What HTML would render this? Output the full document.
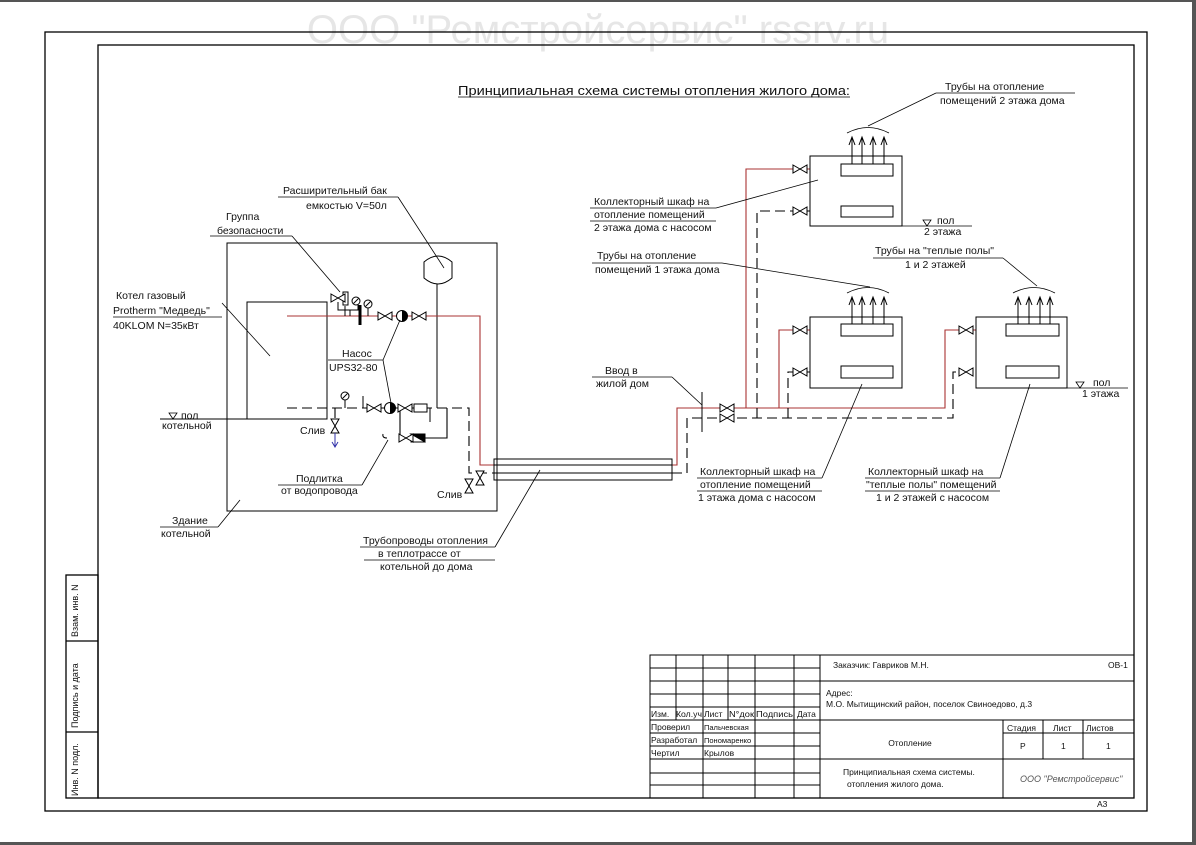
<!DOCTYPE html>
<html><head><meta charset="utf-8"><style>
html,body{margin:0;padding:0;background:#fff}
svg{display:block}
text{font-family:"Liberation Sans",sans-serif;font-size:10.5px;fill:#111}
.t{font-size:10px}
</style></head><body>
<svg width="1196" height="845" viewBox="0 0 1196 845" xmlns="http://www.w3.org/2000/svg">
<defs>
<g id="v"><path d="M-7,-4 L7,4 L7,-4 L-7,4Z" fill="#fff" stroke="#000" stroke-width="1"/></g>
<g id="vv"><path d="M-4,-7 L4,7 L-4,7 L4,-7Z" fill="#fff" stroke="#000" stroke-width="1"/></g>
<g id="p"><circle r="5.5" fill="#fff" stroke="#000"/><path d="M0,-5.5 A5.5,5.5 0 0 1 0,5.5Z" fill="#000"/></g>
<g id="g"><circle r="4" fill="#fff" stroke="#000"/><line x1="-2.5" y1="2.5" x2="2.5" y2="-2.5" stroke="#000"/></g>
<g id="ar"><line x1="0" y1="0" x2="0" y2="-26" stroke="#000"/><path d="M-3,-19 L0,-27 L3,-19" fill="none" stroke="#000"/></g>
</defs>
<rect x="0" y="0" width="1196" height="2" fill="#555"/>
<rect x="0" y="842" width="1196" height="3" fill="#555"/>
<rect x="1192" y="0" width="4" height="845" fill="#555"/>
<text x="598" y="43" text-anchor="middle" style="font-size:40px;fill:#e6e6e6">ООО "Ремстройсервис" rssrv.ru</text>
<g fill="none" stroke="#000" stroke-width="1.3">
<rect x="45" y="32" width="1102" height="779"/>
<rect x="98" y="45" width="1036" height="753"/>
<rect x="66" y="575" width="32" height="223"/>
<line x1="66" y1="641" x2="98" y2="641"/><line x1="66" y1="732" x2="98" y2="732"/>
</g>
<g class="t" style="font-size:9px">
<text transform="translate(78,637) rotate(-90)" style="font-size:9px">Взам. инв. N</text>
<text transform="translate(78,728) rotate(-90)" style="font-size:9px">Подпись и дата</text>
<text transform="translate(78,796) rotate(-90)" style="font-size:9px">Инв. N подл.</text>
</g>
<text x="458" y="95" textLength="392" lengthAdjust="spacingAndGlyphs" style="font-size:13px">Принципиальная схема системы отопления жилого дома:</text>
<line x1="458" y1="97" x2="850" y2="97" stroke="#000" stroke-width="0.8"/>

<!-- Title block -->
<g fill="none" stroke="#000" stroke-width="1">
<rect x="650" y="655" width="484" height="143"/>
<line x1="676" y1="655" x2="676" y2="720"/><line x1="703" y1="655" x2="703" y2="798"/>
<line x1="728" y1="655" x2="728" y2="720"/><line x1="755" y1="655" x2="755" y2="798"/>
<line x1="794" y1="655" x2="794" y2="798"/><line x1="820" y1="655" x2="820" y2="798"/>
<line x1="650" y1="668" x2="820" y2="668"/><line x1="650" y1="681" x2="820" y2="681"/>
<line x1="650" y1="694" x2="820" y2="694"/><line x1="650" y1="707" x2="820" y2="707"/>
<line x1="650" y1="720" x2="1134" y2="720"/><line x1="650" y1="733" x2="820" y2="733"/>
<line x1="650" y1="746" x2="820" y2="746"/><line x1="650" y1="759" x2="1134" y2="759"/>
<line x1="650" y1="773" x2="820" y2="773"/><line x1="650" y1="785" x2="820" y2="785"/>
<line x1="820" y1="681" x2="1134" y2="681"/>
<line x1="1003" y1="720" x2="1003" y2="798"/><line x1="1043" y1="720" x2="1043" y2="759"/><line x1="1083" y1="720" x2="1083" y2="759"/>
<line x1="1003" y1="733" x2="1134" y2="733"/>
</g>
<g style="font-size:8.5px">
<text x="651" y="717" style="font-size:8.5px">Изм.</text>
<text x="676" y="717" textLength="26" lengthAdjust="spacingAndGlyphs" style="font-size:8.5px">Кол.уч</text>
<text x="704" y="717" style="font-size:8.5px">Лист</text>
<text x="729" y="717" textLength="25" lengthAdjust="spacingAndGlyphs" style="font-size:8.5px">N°док</text>
<text x="756" y="717" textLength="37" lengthAdjust="spacingAndGlyphs" style="font-size:8.5px">Подпись</text>
<text x="797" y="717" style="font-size:8.5px">Дата</text>
<text x="651" y="730" style="font-size:8.5px">Проверил</text><text x="704" y="730" style="font-size:7.5px">Пальчевская</text>
<text x="651" y="743" style="font-size:8.5px">Разработал</text><text x="704" y="743" style="font-size:7.5px">Пономаренко</text>
<text x="651" y="756" style="font-size:8.5px">Чертил</text><text x="704" y="756" style="font-size:8.5px">Крылов</text>
<text x="833" y="668" style="font-size:8.5px">Заказчик: Гавриков М.Н.</text>
<text x="1108" y="668" style="font-size:8.5px">ОВ-1</text>
<text x="826" y="696" style="font-size:8.5px">Адрес:</text>
<text x="826" y="707" style="font-size:8.5px">М.О. Мытищинский район, поселок Свиноедово, д.3</text>
<text x="910" y="746" text-anchor="middle" style="font-size:8.5px">Отопление</text>
<text x="1007" y="731" style="font-size:8.5px">Стадия</text><text x="1053" y="731" style="font-size:8.5px">Лист</text><text x="1086" y="731" style="font-size:8.5px">Листов</text>
<text x="1020" y="749" style="font-size:8.5px">Р</text><text x="1061" y="749" style="font-size:8.5px">1</text><text x="1106" y="749" style="font-size:8.5px">1</text>
<text x="843" y="775" style="font-size:8.5px">Принципиальная схема системы.</text>
<text x="847" y="787" style="font-size:8.5px">отопления жилого дома.</text>
<text x="1020" y="782" style="font-size:9px;font-style:italic;fill:#555">ООО "Ремстройсервис"</text>
<text x="1097" y="807" style="font-size:8.5px">А3</text>
</g>

<!-- boiler room -->
<g fill="none" stroke="#000" stroke-width="1">
<rect x="227" y="243" width="270" height="268"/>
<rect x="247" y="302" width="80" height="117"/>
<path d="M424,262 Q438,250 452,262 L452,278 Q438,290 424,278Z" fill="#fff"/>
<line x1="437" y1="284" x2="437" y2="408"/>
<line x1="160" y1="419" x2="247" y2="419"/>
</g>
<g fill="none" stroke-width="1.1">
<path d="M287,316 L480,316 L480,465 L494,465" stroke="#a33"/>
<path d="M287,408 L469,408 L469,473 L494,473" stroke="#000" stroke-dasharray="10,5"/>
<path d="M335,408 L335,418 M400,408 L400,438 L447,438 L447,408" stroke="#000"/>
<path d="M672,465 L677,465 L677,408 L945,408 L945,330 L976,330" stroke="#a33"/>
<path d="M746,408 L746,169 L810,169 M779,408 L779,330 L810,330" stroke="#a33"/>
<path d="M810,169 L841,169 M810,330 L841,330 M976,330 L1006,330" stroke="#a33"/>
<path d="M672,473 L687,473 L687,418 L953,418 L953,372 L976,372 M757,418 L757,211 L841,211 M788,418 L788,372 L841,372 M976,372 L1006,372" stroke="#000" stroke-dasharray="10,5"/>
</g>
<!-- tube -->
<g fill="none" stroke="#000" stroke-width="1">
<rect x="494" y="459" width="178" height="21"/>
<line x1="494" y1="465" x2="672" y2="465"/><line x1="494" y1="473" x2="672" y2="473"/>
<line x1="702" y1="392" x2="702" y2="432"/>
<path d="M345,316 L345,306 M350,316 L350,310 L338,310 L338,302 M350,310 L358,310 L358,302 M368,316 L368,308"/>
<rect x="343" y="292" width="5" height="13" fill="#fff"/>
<line x1="360" y1="305" x2="360" y2="325" stroke-width="3"/>
<line x1="363" y1="408" x2="363" y2="396"/><line x1="345" y1="408" x2="345" y2="400"/>
<line x1="430" y1="408" x2="430" y2="422"/>
<path d="M387,438 Q382,438 383,434"/>
<rect x="411" y="434" width="14" height="8" fill="#fff"/><path d="M411,434 L425,442 L425,434Z" fill="#000"/>
<rect x="414" y="404" width="13" height="8" fill="#fff"/>
</g>
<use href="#v" x="338" y="298"/>
<use href="#g" x="356" y="301"/><use href="#g" x="368" y="304"/><use href="#g" x="345" y="396"/>
<use href="#v" x="385" y="316"/><use href="#p" x="402" y="316"/><use href="#v" x="419" y="316"/>
<use href="#v" x="374" y="408"/><use href="#p" x="390" y="408"/><use href="#v" x="405" y="408"/>
<use href="#v" x="406" y="438"/>
<use href="#vv" x="335" y="426"/>
<line x1="335" y1="433" x2="335" y2="446" stroke="#33a"/><path d="M332,442 L335,447 L338,442" fill="none" stroke="#33a"/>
<use href="#vv" x="469" y="486"/><use href="#vv" x="480" y="478"/>
<use href="#v" x="727" y="408"/><use href="#v" x="727" y="418"/>
<use href="#v" x="800" y="169"/><use href="#v" x="800" y="211"/>
<use href="#v" x="800" y="330"/><use href="#v" x="800" y="372"/>
<use href="#v" x="966" y="330"/><use href="#v" x="966" y="372"/>
<g fill="#fff" stroke="#000" stroke-width="1">
<rect x="810" y="156" width="92" height="70"/><rect x="841" y="164" width="52" height="12"/><rect x="841" y="206" width="52" height="11"/>
<rect x="810" y="317" width="92" height="71"/><rect x="841" y="324" width="52" height="12"/><rect x="841" y="366" width="52" height="12"/>
<rect x="976" y="317" width="91" height="71"/><rect x="1006" y="324" width="53" height="12"/><rect x="1006" y="366" width="53" height="12"/>
</g>
<use href="#ar" x="852" y="164"/><use href="#ar" x="862" y="164"/><use href="#ar" x="873" y="164"/><use href="#ar" x="884" y="164"/>
<use href="#ar" x="852" y="324"/><use href="#ar" x="862" y="324"/><use href="#ar" x="873" y="324"/><use href="#ar" x="884" y="324"/>
<use href="#ar" x="1018" y="324"/><use href="#ar" x="1029" y="324"/><use href="#ar" x="1040" y="324"/><use href="#ar" x="1050" y="324"/>
<g fill="none" stroke="#000" stroke-width="0.8">
<path d="M847,133 Q868,122 889,133 M847,293 Q868,282 889,293 M1013,293 Q1034,282 1055,293"/>
<line x1="902" y1="226" x2="972" y2="226"/><line x1="1067" y1="388" x2="1128" y2="388"/>
<path d="M923,220 L931,220 L927,226Z M1076,382 L1084,382 L1080,388Z M169,413 L177,413 L173,419Z"/>
<line x1="113" y1="317" x2="222" y2="317"/><line x1="222" y1="303" x2="270" y2="356"/>
<line x1="210" y1="236" x2="292" y2="236"/><line x1="292" y1="236" x2="340" y2="292"/>
<line x1="278" y1="197" x2="398" y2="197"/><line x1="398" y1="197" x2="444" y2="268"/>
<line x1="328" y1="360" x2="383" y2="360"/><line x1="383" y1="360" x2="400" y2="320"/><line x1="383" y1="360" x2="391" y2="403"/>
<line x1="278" y1="485" x2="362" y2="485"/><line x1="362" y1="485" x2="388" y2="440"/>
<line x1="160" y1="527" x2="218" y2="527"/><line x1="218" y1="527" x2="240" y2="500"/>
<line x1="360" y1="547" x2="495" y2="547"/><line x1="364" y1="560" x2="495" y2="560"/><line x1="495" y1="547" x2="540" y2="470"/>
<line x1="592" y1="377" x2="672" y2="377"/><line x1="672" y1="377" x2="702" y2="405"/>
<line x1="590" y1="208" x2="716" y2="208"/><line x1="590" y1="221" x2="716" y2="221"/><line x1="716" y1="208" x2="818" y2="180"/>
<line x1="592" y1="263" x2="722" y2="263"/><line x1="722" y1="263" x2="870" y2="287"/>
<line x1="936" y1="93" x2="1075" y2="93"/><line x1="936" y1="93" x2="868" y2="126"/>
<line x1="873" y1="258" x2="1003" y2="258"/><line x1="1003" y1="258" x2="1037" y2="286"/>
<line x1="697" y1="478" x2="822" y2="478"/><line x1="697" y1="491" x2="822" y2="491"/><line x1="822" y1="478" x2="862" y2="384"/>
<line x1="865" y1="478" x2="1000" y2="478"/><line x1="865" y1="491" x2="1000" y2="491"/><line x1="1000" y1="478" x2="1030" y2="384"/>
</g>
<text x="116" y="299">Котел газовый</text>
<text x="113" y="314">Protherm "Медведь"</text>
<text x="113" y="329">40KLOM N=35кВт</text>
<text x="181" y="419">пол</text><text x="162" y="429">котельной</text>
<text x="300" y="434">Слив</text><text x="437" y="498">Слив</text>
<text x="226" y="220">Группа</text><text x="217" y="234">безопасности</text>
<text x="283" y="194">Расширительный бак</text><text x="306" y="209">емкостью V=50л</text>
<text x="342" y="357">Насос</text><text x="329" y="371">UPS32-80</text>
<text x="296" y="482">Подлитка</text><text x="281" y="494">от водопровода</text>
<text x="172" y="524">Здание</text><text x="161" y="537">котельной</text>
<text x="363" y="544">Трубопроводы отопления</text><text x="378" y="557">в теплотрассе от</text><text x="380" y="570">котельной до дома</text>
<text x="605" y="374">Ввод в</text><text x="596" y="387">жилой дом</text>
<text x="594" y="205">Коллекторный шкаф на</text><text x="594" y="218">отопление помещений</text><text x="594" y="231">2 этажа дома с насосом</text>
<text x="597" y="259">Трубы на отопление</text><text x="595" y="273">помещений 1 этажа дома</text>
<text x="945" y="90">Трубы на отопление</text><text x="940" y="104">помещений 2 этажа дома</text>
<text x="875" y="254">Трубы на "теплые полы"</text><text x="905" y="268">1 и 2 этажей</text>
<text x="937" y="224">пол</text><text x="924" y="235">2 этажа</text>
<text x="1093" y="386">пол</text><text x="1082" y="397">1 этажа</text>
<text x="700" y="475">Коллекторный шкаф на</text><text x="700" y="488">отопление помещений</text><text x="698" y="501">1 этажа дома с насосом</text>
<text x="868" y="475">Коллекторный шкаф на</text><text x="866" y="488">"теплые полы" помещений</text><text x="876" y="501">1 и 2 этажей с насосом</text>
</svg>
</body></html>
